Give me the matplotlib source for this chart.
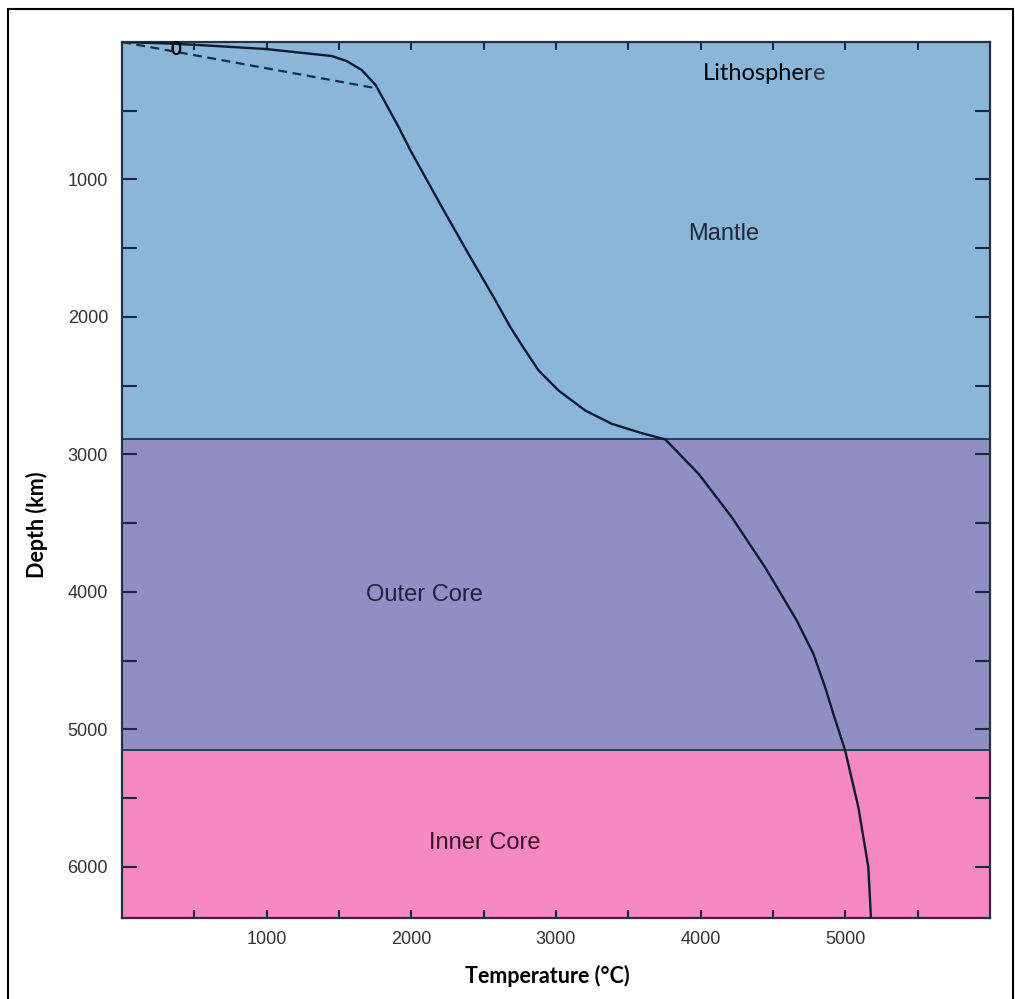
import numpy as np
import matplotlib.pyplot as plt
from matplotlib.patches import Rectangle

# geotherm: temperature (C) vs depth (km)
temp = [0, 300, 532, 994, 1450, 1554, 1657, 1754, 1913, 1994, 2224, 2408,
        2569, 2684, 2788, 2880, 3018, 3202, 3386, 3593, 3755, 3985, 4215,
        4445, 4664, 4779, 4860, 4917, 4998, 5090, 5159, 5177]
depth = [0, 10, 22, 51, 102, 139, 204, 314, 620, 789, 1225, 1565,
         1856, 2073, 2244, 2389, 2535, 2680, 2777, 2845, 2890, 3140, 3456,
         3820, 4207, 4449, 4692, 4886, 5150, 5565, 6001, 6371]

# dashed lithosphere conductive gradient
litho_temp = [0, 1750]
litho_depth = [0, 335]

layers = ['Mantle', 'Outer Core', 'Inner Core']
layer_top = [0, 2890, 5150]
layer_bottom = [2890, 5150, 6371]
boundaries = [2890, 5150]

xticks = [1000, 2000, 3000, 4000, 5000]
yticks = [1000, 2000, 3000, 4000, 5000, 6000]

colors = ['#8ab6d9', '#8f8fc4', '#f689c0']
navy = '#1c2640'

fig = plt.figure(figsize=(10.15, 9.99), dpi=100)
ax = fig.add_axes([122/1015, 81/999, 868/1015, 876/999])

for top, bot, c in zip(layer_top, layer_bottom, colors):
    ax.axhspan(top, bot, color=c, lw=0, zorder=0)
for b in boundaries:
    ax.axhline(b, color='#2d3a58', lw=1.4, zorder=1)

ax.plot(temp, depth, color='#101a30', lw=1.7, zorder=3,
        solid_joinstyle='round')
ax.plot(litho_temp, litho_depth, color='#1a2a48', lw=1.6, ls=(0, (4, 2.5)), zorder=3)

ax.set_xlim(0, 6000)
ax.set_ylim(6371, 0)

ax.set_xticks(xticks)
ax.set_xticks(np.arange(500, 6000, 1000), minor=True)
ax.set_yticks(yticks)
ax.set_yticks(np.arange(500, 6000, 1000), minor=True)
ax.tick_params(axis='both', which='both', direction='in', top=True, right=True,
               color=navy, width=1.5, labelsize=13, labelcolor='#333333')
ax.tick_params(axis='x', which='both', length=6, pad=9)
ax.tick_params(axis='y', which='both', length=11, pad=10)
for lab in ax.get_xticklabels() + ax.get_yticklabels():
    lab.set_family('Liberation Sans')
for s in ax.spines.values():
    s.set_color('#2a2f40')
    s.set_linewidth(1.6)

ax.set_xlabel('Temperature (°C)', family='Lato', weight='bold', fontsize=15.5)
ax.xaxis.set_label_coords(0.4896, -0.054)
ax.set_ylabel('Depth (km)', family='Lato', weight='bold', fontsize=15.5)
ax.yaxis.set_label_coords(-0.085, 0.449)

region_kw = dict(family='Liberation Sans', fontsize=17, ha='center', va='center')
ax.text(4157, 1393, 'Mantle', color='#1d2638', **region_kw)
ax.text(2092, 4025, 'Outer Core', color='#1d2240', **region_kw)
ax.text(2507, 5829, 'Inner Core', color='#3c1028', **region_kw)

ax.text(4779, 229, 'Lithospher', family='Lato', fontsize=17, color='black',
        ha='right', va='center')
ax.text(4779, 229, 'e', family='Lato', fontsize=17, color='#333344',
        ha='left', va='center')
ax.text(373, 55, '0', family='Lato', weight='bold', fontsize=13.5, color='black',
        ha='center', va='center', zorder=5, clip_on=False)

fig.patches.append(Rectangle((8/1015, -0.01), 1005/1015, 0.01 + 990/999,
                             transform=fig.transFigure, fill=False,
                             edgecolor='black', lw=1.5))

fig.savefig('out.png', dpi=100)
